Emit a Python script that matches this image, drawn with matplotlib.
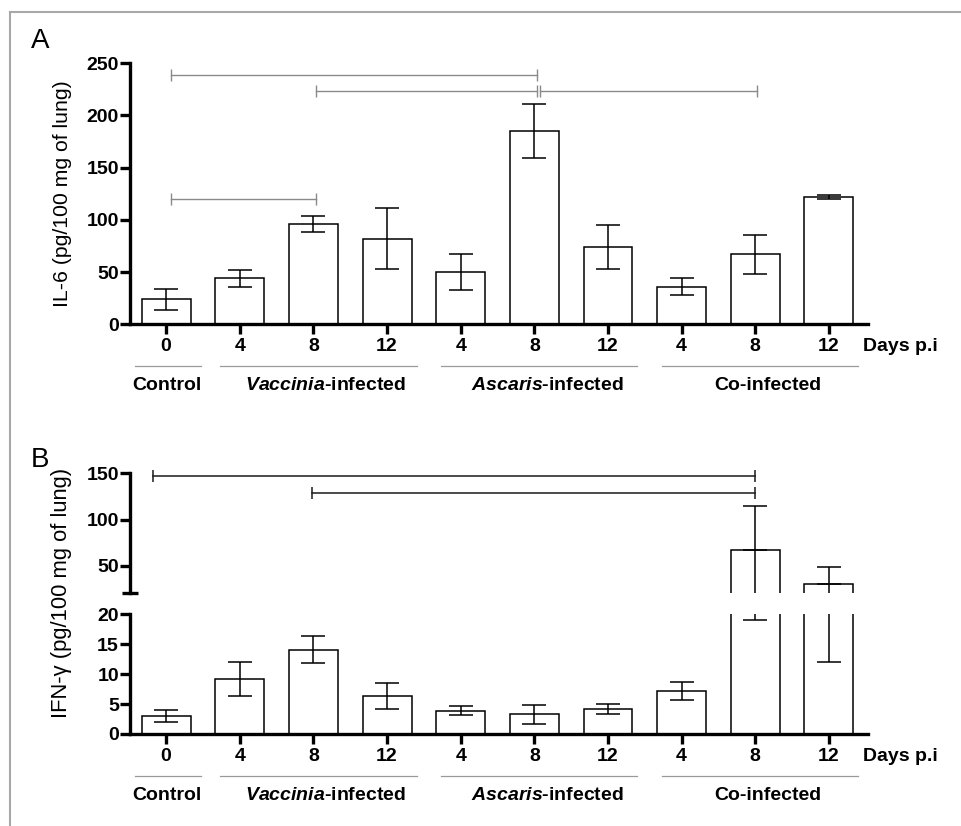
import matplotlib
matplotlib.use("Agg")
import matplotlib.pyplot as plt
import matplotlib.transforms as mtransforms
from matplotlib.lines import Line2D
import numpy as np

plt.rcParams['font.family'] = ['Liberation Sans', 'DejaVu Sans']
plt.rcParams['mathtext.fontset'] = 'custom'
plt.rcParams['mathtext.it'] = 'Liberation Sans:italic:bold'
plt.rcParams['mathtext.rm'] = 'Liberation Sans:bold'
plt.rcParams['mathtext.bf'] = 'Liberation Sans:bold'

# ---------------- data ----------------
day_labels = ["0", "4", "8", "12", "4", "8", "12", "4", "8", "12"]
group_names = ["Control", r"$\mathit{Vaccinia}$-infected",
               r"$\mathit{Ascaris}$-infected", "Co-infected"]
group_members = [[0], [1, 2, 3], [4, 5, 6], [7, 8, 9]]

il6_mean = [24, 44, 96, 82, 50, 185, 74, 36, 67, 122]
il6_err = [10, 8, 8, 29, 17, 26, 21.5, 8, 19, 2]

ifn_mean = [3.0, 9.2, 14.1, 6.3, 3.9, 3.3, 4.2, 7.2, 67, 30.5]
ifn_err = [1.0, 2.8, 2.2, 2.2, 0.7, 1.6, 0.8, 1.5, 48, 18.5]

# significance brackets: (start bar, end bar, y level)
il6_brackets = [(0.06, 5.03, 239), (2.04, 5.03, 223), (5.07, 8.02, 223), (0.06, 2.03, 120)]
ifn_brackets = [(-0.18, 8.0, 146.7), (1.98, 8.0, 128.7)]

ylabel_a = "IL-6 (pg/100 mg of lung)"
ylabel_b = "IFN-\u03b3 (pg/100 mg of lung)"

# ---------------- figure ----------------
W, H = 961, 826
fig = plt.figure(figsize=(W / 100, H / 100), dpi=100)

def px_axes(x0, y_top, x1, y_bot):
    return fig.add_axes([x0 / W, 1 - y_bot / H, (x1 - x0) / W, (y_bot - y_top) / H])

SPINE_W = 2.4
TICK_FS = 14
x = np.arange(len(day_labels))
XLIM = (-0.49, 9.53)
BAR_W = 0.665
EDGE_W = 1.1
CAP = 8.4

def draw_bars(ax, mean, err, upper_only=False):
    ax.bar(x, mean, width=BAR_W, color='white', edgecolor='black', linewidth=EDGE_W, zorder=2)
    if upper_only:
        mean_a = np.asarray(mean, float)
        err_a = np.asarray(err, float)
        ax.errorbar(x, mean_a, yerr=[np.zeros_like(err_a), err_a], fmt='none',
                    ecolor='black', elinewidth=EDGE_W, capsize=CAP, capthick=EDGE_W, zorder=3)
        ax.vlines(x, mean_a - err_a, mean_a, color='black', lw=EDGE_W, zorder=3)
    else:
        ax.errorbar(x, mean, yerr=err, fmt='none', ecolor='black', elinewidth=EDGE_W,
                    capsize=CAP, capthick=EDGE_W, zorder=3)
    ax.set_xlim(*XLIM)

def style_axes(ax, bottom=True):
    for s in ['top', 'right']:
        ax.spines[s].set_visible(False)
    ax.spines['left'].set_linewidth(SPINE_W)
    if bottom:
        ax.spines['bottom'].set_linewidth(SPINE_W)
        ax.set_xticks(x)
        ax.set_xticklabels(day_labels, fontsize=TICK_FS, fontweight='bold')
        ax.tick_params(axis='x', direction='out', length=7, width=SPINE_W, pad=3)
    else:
        ax.spines['bottom'].set_visible(False)
        ax.set_xticks([])
    ax.tick_params(axis='y', direction='out', length=7, width=SPINE_W, pad=1,
                   labelsize=TICK_FS)
    for lab in ax.get_yticklabels():
        lab.set_fontweight('bold')
    ax.patch.set_visible(False)

def draw_brackets(ax, brackets, color, lw, ms):
    for s, e, yv in brackets:
        ax.plot([s, e], [yv, yv], color=color, lw=lw, marker='|', markersize=ms,
                markeredgewidth=lw, clip_on=False, zorder=4)

def draw_groups(ax, y_line_px, y_text_px):
    tr = mtransforms.blended_transform_factory(ax.transData, fig.transFigure)
    for name, mem in zip(group_names, group_members):
        multi = len(mem) > 1
        left = mem[0] - (0.27 if multi else 0.42)
        right = mem[-1] + (0.40 if multi else 0.48)
        ax.add_line(Line2D([left, right], [1 - y_line_px / H] * 2, transform=tr,
                           color='#9a9a9a', lw=0.9, clip_on=False))
        xc = np.mean(mem) + (0.17 if multi else 0.01)
        ax.text(xc, 1 - y_text_px / H, name, transform=tr,
                ha='center', va='center', fontsize=14, fontweight='bold')

# ---------------- Panel A ----------------
axA = px_axes(130, 63.3, 868, 324.3)
draw_bars(axA, il6_mean, il6_err)
axA.set_ylim(0, 250)
axA.set_yticks([0, 50, 100, 150, 200, 250])
style_axes(axA)
draw_brackets(axA, il6_brackets, '#8a8a8a', 1.0, 8)
draw_groups(axA, 366, 385)
fig.text(863 / W, 1 - 346.7 / H, "Days p.i", ha='left', va='center', fontsize=14,
         fontweight='bold')
fig.text(62 / W, 1 - 194 / H, ylabel_a, rotation=90, ha='center', va='center', fontsize=15.3)
fig.text(31 / W, 1 - 48 / H, "A", ha='left', va='baseline', fontsize=20)

# ---------------- Panel B ----------------
axBl = px_axes(130, 614.3, 868, 734)
axBu = px_axes(130, 473.3, 868, 592.7)
draw_bars(axBl, ifn_mean, ifn_err)
draw_bars(axBu, ifn_mean, ifn_err, upper_only=True)
axBl.set_ylim(0, 20)
axBl.set_yticks([0, 5, 10, 15, 20])
axBu.set_ylim(20.8, 150)
axBu.set_yticks([50, 100, 150])
style_axes(axBl)
style_axes(axBu, bottom=False)
# break caps on the left spines
axBl.set_yticks([20], minor=True)
axBl.tick_params(axis='y', which='minor', direction='inout', length=12, width=SPINE_W)
axBu.set_yticks([20.8], minor=True)
axBu.tick_params(axis='y', which='minor', direction='inout', length=11, width=SPINE_W)
draw_brackets(axBu, ifn_brackets, '#1a1a1a', 1.1, 9)
draw_groups(axBl, 775.7, 795)
fig.text(863 / W, 1 - 756.7 / H, "Days p.i", ha='left', va='center', fontsize=14,
         fontweight='bold')
fig.text(62 / W, 1 - 592.5 / H, ylabel_b, rotation=90, ha='center', va='center', fontsize=15.8)
fig.text(31 / W, 1 - 466.7 / H, "B", ha='left', va='baseline', fontsize=20)

# outer frame lines (top and left)
fig.add_artist(Line2D([10 / W, 1], [1 - 12 / H, 1 - 12 / H], transform=fig.transFigure,
                      color='#a8a8a8', lw=1.5))
fig.add_artist(Line2D([10 / W, 10 / W], [0, 1 - 12 / H], transform=fig.transFigure,
                      color='#a8a8a8', lw=1.5))

fig.savefig("out.png", dpi=100, facecolor='white')
